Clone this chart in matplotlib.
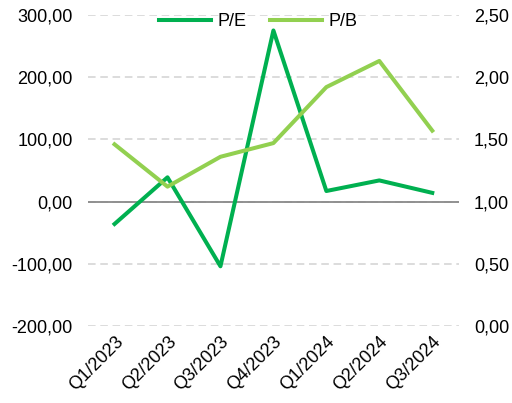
import matplotlib
matplotlib.use("Agg")
import matplotlib.pyplot as plt
from matplotlib.ticker import FuncFormatter

plt.rcParams['font.family'] = ['Liberation Sans', 'DejaVu Sans']

quarters = ['Q1/2023', 'Q2/2023', 'Q3/2023', 'Q4/2023', 'Q1/2024', 'Q2/2024', 'Q3/2024']
pe = [-36, 39, -104, 275, 17, 34, 14]
pb = [1.46, 1.12, 1.36, 1.47, 1.92, 2.13, 1.57]


def comma_fmt(v, pos):
    return f"{v:.2f}".replace('.', ',')


fig, ax = plt.subplots(figsize=(5.12, 4.03), dpi=100)
fig.subplots_adjust(left=0.172, right=0.896, top=0.963, bottom=0.191)
ax2 = ax.twinx()

x = range(len(quarters))
l1, = ax.plot(x, pe, color='#00B050', lw=2.9, label='P/E', zorder=3)
l2, = ax2.plot(x, pb, color='#92D050', lw=2.9, label='P/B', zorder=3)

ax.set_ylim(-200, 300)
ax.set_yticks(range(-200, 301, 100))
ax2.set_ylim(0, 2.5)
ax2.set_yticks([0, 0.5, 1.0, 1.5, 2.0, 2.5])
ax.yaxis.set_major_formatter(FuncFormatter(comma_fmt))
ax2.yaxis.set_major_formatter(FuncFormatter(comma_fmt))
ax.set_xlim(-0.5, len(quarters) - 0.5)
ax.set_xticks(list(x))
ax.set_xticklabels(quarters, rotation=45, ha='right', rotation_mode='anchor')

for a in (ax, ax2):
    for s in a.spines.values():
        s.set_visible(False)
    a.tick_params(length=0, labelsize=13, colors='#000000', pad=11)
ax.tick_params(axis='x', pad=5)

ax.grid(axis='y', color='#d9d9d9', ls=(0, (4.2, 2.6)), lw=1.3)
ax.axhline(0, color='#898989', lw=1.3, zorder=2)
ax.set_axisbelow(True)

ax2.set_zorder(ax.get_zorder() + 1)
ax.patch.set_visible(False)

fig.legend([l1, l2], ['P/E', 'P/B'], loc='center', ncol=2, frameon=False,
           fontsize=13, bbox_to_anchor=(0.504, 0.947), handlelength=2.9,
           columnspacing=1.3, handletextpad=0.35)

plt.savefig('out.png', dpi=100)
